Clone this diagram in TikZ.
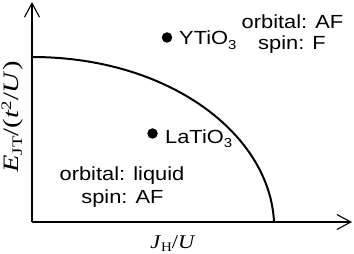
\documentclass[tikz,border=0pt]{standalone}
\usepackage{fontspec}
\setmainfont{Liberation Sans}[FakeStretch=1.15]
\newfontfamily\serifl{Liberation Serif}[FakeStretch=1.15]
\newfontfamily\serifr{Liberation Serif}[FakeStretch=1.3]
\usetikzlibrary{arrows.meta}
\begin{document}
\begin{tikzpicture}[x=1pt,y=-1pt,
  axis/.style={line width=1.1pt,-{Straight Barb[length=14pt,width=15pt,line width=1.1pt]}},
  bound/.style={line width=2pt},
  lbl/.style={font=\fontsize{19}{21}\selectfont,inner sep=0pt,anchor=base},
  dot/.style={circle,fill=black,minimum size=10.5pt,inner sep=0pt},
  cmp/.style={font=\fontsize{19}{21}\selectfont,inner sep=0pt,anchor=base west}]
\useasboundingbox (0,0) rectangle (354,254);
\coordinate (O) at (32,222);
\coordinate (ytop) at (32,2);
\coordinate (xend) at (352,222);
\draw[axis] (O) -- (ytop);
\draw[axis] (O) -- (xend);
\coordinate (cs) at (32,57);
\coordinate (ce) at (274,222);
\draw[bound] (cs) .. controls (170,57) and (270,135) .. (ce);
\node[dot] (yd) at (167,37.5) {};
\node[cmp] (yt) at (179,45) {YTiO\raisebox{-5pt}{\fontsize{13}{13}\selectfont 3}};
\node[dot] (ld) at (152.5,133.5) {};
\node[cmp] (lt) at (165,143) {LaTiO\raisebox{-5pt}{\fontsize{13}{13}\selectfont 3}};
\node[lbl] (oaf) at (292.5,29) {orbital: AF};
\node[lbl] (sf) at (292,50) {spin: F};
\node[lbl] (oliq) at (122,181) {orbital: liquid};
\node[lbl] (saf) at (122.5,204) {spin: AF};
\node[lbl,font=\serifl\fontsize{19.5}{21}\selectfont] (xl) at (173,248) {\textit{J}\raisebox{-3.5pt}{\fontsize{13}{13}\selectfont H}/\textit{U}};
\node[lbl,rotate=90,font=\serifr\fontsize{22}{24}\selectfont] (yl) at (18,117) {\textit{E}\raisebox{-4pt}{\fontsize{14.5}{14.5}\selectfont JT}/(\textit{t}\raisebox{7pt}{\fontsize{14.5}{14.5}\selectfont 2}/\textit{U})};
\end{tikzpicture}
\end{document}
